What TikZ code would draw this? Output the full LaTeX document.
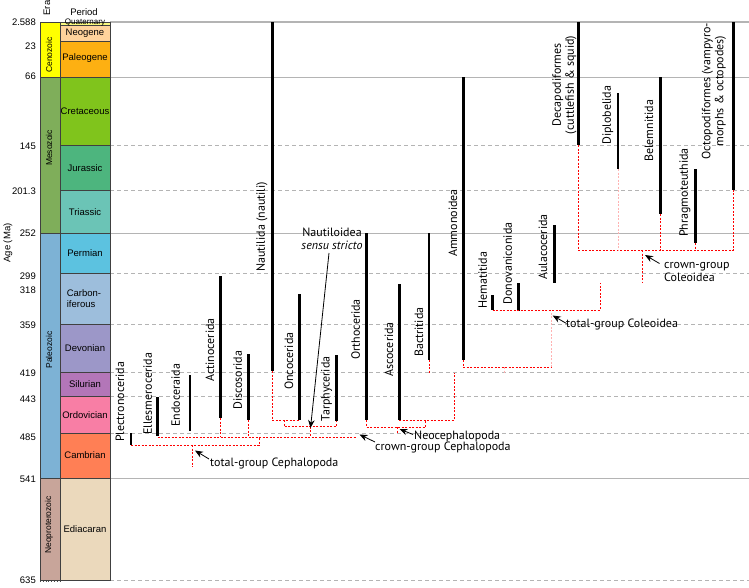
\documentclass[tikz,border=0pt]{standalone}
\usepackage{fontspec}
\setmainfont{Liberation Sans}
\newfontfamily\taxfont{PT Sans}
\usetikzlibrary{arrows.meta}
\definecolor{cQuat}{HTML}{F9F97F}
\definecolor{cNeog}{HTML}{FFD39B}
\definecolor{cPaleog}{HTML}{FDB012}
\definecolor{cCeno}{HTML}{FFFF00}
\definecolor{cMeso}{HTML}{7FAE5A}
\definecolor{cCret}{HTML}{80C41C}
\definecolor{cJura}{HTML}{4DB57E}
\definecolor{cTria}{HTML}{6BC4B6}
\definecolor{cPaleo}{HTML}{7DB2D5}
\definecolor{cPerm}{HTML}{5CC2E0}
\definecolor{cCarb}{HTML}{9DBEDC}
\definecolor{cDevo}{HTML}{9C97C8}
\definecolor{cSilu}{HTML}{B376B8}
\definecolor{cOrdo}{HTML}{F87EA5}
\definecolor{cCamb}{HTML}{FF7F55}
\definecolor{cNeop}{HTML}{C8A59A}
\definecolor{cEdia}{HTML}{EBD9BC}
\definecolor{gridgray}{HTML}{B4B4B4}
\tikzset{
  unitbox/.style={draw=black!75, line width=0.8pt},
  solidgrid/.style={gridgray, line width=1pt},
  dashgrid/.style={gridgray, line width=0.9pt, dash pattern=on 4pt off 3pt},
  link/.style={red, line width=0.9pt, dash pattern=on 2pt off 1.5pt},
  palelink/.style={red!30, line width=0.9pt, dash pattern=on 2pt off 1.5pt},
  taxon/.style={rotate=90, anchor=west, inner sep=0pt, font=\taxfont\fontsize{12}{13}\selectfont},
  taxonc/.style={rotate=90, anchor=center, inner sep=0pt, align=center, font=\taxfont\fontsize{12}{13}\selectfont},
  note/.style={anchor=west, inner sep=0pt, font=\taxfont\fontsize{12}{13}\selectfont},
  pointer/.style={-{Stealth[length=8pt,width=6.5pt]}, line width=0.8pt},
  agelbl/.style={anchor=east, inner sep=0pt, font=\fontsize{9.5}{10}\selectfont},
  perlbl/.style={inner sep=0pt, font=\fontsize{9.5}{11}\selectfont},
  eralbl/.style={rotate=90, inner sep=0pt, font=\fontsize{8.5}{9}\selectfont}
}
\begin{document}
\begin{tikzpicture}[x=1pt,y=-1pt]
\useasboundingbox (0,0) rectangle (749,587);
\fill[white] (0,0) rectangle (749,587);

% ---------- grid lines ----------
\foreach \yy in {145,190,273,324,372,396,433,580}
  \draw[dashgrid] (110,\yy) -- (749,\yy);
\foreach \yy in {77,233,478}
  \draw[solidgrid] (110,\yy) -- (749,\yy);
\draw[gridgray, line width=2pt] (110,22) -- (749,22);

% ---------- era column ----------
\draw[unitbox, fill=cCeno] (40,22) rectangle (60,77);
\draw[unitbox, fill=cMeso] (40,77) rectangle (60,233);
\draw[unitbox, fill=cPaleo] (40,233) rectangle (60,478);
\draw[unitbox, fill=cNeop] (40,478) rectangle (60,580);
\draw[black!70, line width=0.8pt, dotted] (40,581.5) -- (60,581.5);
\node[eralbl] (eCeno) at (49,55) {Cenozoic};
\node[eralbl] (eMeso) at (49,148) {Mesozoic};
\node[eralbl] (ePaleo) at (49,350) {Paleozoic};
\node[eralbl] (eNeop) at (49,525) {Neoproterozoic};

% ---------- period column ----------
\draw[unitbox, fill=cQuat] (60,22) rectangle (110,25);
\draw[unitbox, fill=cNeog] (60,25) rectangle (110,41.7);
\draw[unitbox, fill=cPaleog] (60,41.7) rectangle (110,77);
\draw[unitbox, fill=cCret] (60,77) rectangle (110,145);
\draw[unitbox, fill=cJura] (60,145) rectangle (110,190);
\draw[unitbox, fill=cTria] (60,190) rectangle (110,233);
\draw[unitbox, fill=cPerm] (60,233) rectangle (110,273);
\draw[unitbox, fill=cCarb] (60,273) rectangle (110,324);
\draw[unitbox, fill=cDevo] (60,324) rectangle (110,372);
\draw[unitbox, fill=cSilu] (60,372) rectangle (110,396);
\draw[unitbox, fill=cOrdo] (60,396) rectangle (110,433);
\draw[unitbox, fill=cCamb] (60,433) rectangle (110,478);
\draw[unitbox, fill=cEdia] (60,478) rectangle (110,580);
\node[perlbl, font=\fontsize{8}{8}\selectfont] (pQuat) at (85,23) {Quaternary};
\node[perlbl] (pNeog) at (85,33.5) {Neogene};
\node[perlbl] (pPaleog) at (85,58) {Paleogene};
\node[perlbl] (pCret) at (85,111) {Cretaceous};
\node[perlbl] (pJura) at (85,168) {Jurassic};
\node[perlbl] (pTria) at (85,212) {Triassic};
\node[perlbl] (pPerm) at (85,253) {Permian};
\node[perlbl, align=left] (pCarb) at (84,298.5) {Carbon-\\iferous};
\node[perlbl] (pDevo) at (85,348) {Devonian};
\node[perlbl] (pSilu) at (85,384) {Silurian};
\node[perlbl] (pOrdo) at (85,415) {Ordovician};
\node[perlbl] (pCamb) at (85,455) {Cambrian};
\node[perlbl] (pEdia) at (85,529) {Ediacaran};

% ---------- headers and ages ----------
\node[eralbl, font=\fontsize{9.5}{10}\selectfont] (hEra) at (47,8) {Era};
\node[perlbl] (hPer) at (84,12) {Period};
\node[eralbl, font=\fontsize{9.5}{10}\selectfont] (hAge) at (8,243) {Age (Ma)};
\foreach \lab/\yy in {2.588/22,23/46,66/76,145/146,201.3/191,252/233,299/276,318/290,359/325,419/373,443/399.5,485/437,541/479,635/580}
  \node[agelbl] at (36,\yy) {\lab};

% ---------- taxon ranges ----------
\foreach \n/\x/\t/\b/\w in {plec/131/433/445/2.8, elles/157.7/397/436/3, endo/190/375/431/2, actin/220.7/276/418/3,
  disco/248/354/420/3, naut/272/22/371/3, onco/299/294/420/3, tarph/336/355/421/3, ortho/366.7/233/420/3,
  asco/399/284/420/3, bact/429/233/360/2.2, ammon/463/77/360/3, hemat/492.7/295/310/2.5, donov/518/283/311/3,
  aulac/554/225/283/3, decap/578.3/22/145/3, diplo/618/93/169/2.2, belem/660/77/214/3, phrag/695.7/169/243/3,
  octop/733.3/22/190/3}{
  \coordinate (\n T) at (\x,\t);
  \coordinate (\n B) at (\x,\b);
  \draw[line width=\w pt] (\n T) -- (\n B);
}

% ---------- taxon labels ----------
\node[taxon] (lPlec) at (120,442) {Plectronocerida};
\node[taxon] (lElles) at (147.7,435) {Ellesmerocerida};
\node[taxon] (lEndo) at (175.7,427) {Endoceraida};
\node[taxon] (lActin) at (210,382) {Actinocerida};
\node[taxon] (lDisco) at (237.7,410) {Discosorida};
\node[taxon] (lNaut) at (262,272) {Nautilida (nautili)};
\node[taxon] (lOnco) at (289,390) {Oncocerida};
\node[taxon] (lTarph) at (326.7,421.5) {Tarphycerida};
\node[taxon] (lOrtho) at (355.7,360) {Orthocerida};
\node[taxon] (lAsco) at (389,377) {Ascocerida};
\node[taxon] (lBact) at (419,357) {Bactritida};
\node[taxon] (lAmmon) at (453,257) {Ammonoidea};
\node[taxon] (lHemat) at (482.7,309) {Hematitida};
\node[taxon] (lDonov) at (507.7,305) {Donovaniconida};
\node[taxon] (lAulac) at (543,280) {Aulacocerida};
\node[taxonc] (lDecap) at (564.5,85) {Decapodiformes\\(cuttlefish \& squid)};
\node[taxon] (lDiplo) at (607.7,145) {Diplobelida};
\node[taxon] (lBelem) at (649,162) {Belemnitida};
\node[taxon] (lPhrag) at (685,237) {Phragmoteuthida};
\node[taxonc] (lOctop) at (714,91) {Octopodiformes (vampyro-\\morphs \& octopodes)};

% ---------- connectors ----------
% total-group Cephalopoda
\coordinate (tgJ) at (259,437);
\coordinate (tgS) at (192.7,445);
\coordinate (tgE) at (192.7,466.7);
\draw[link] (plecB) -| (tgJ);
\draw[link] (tgS) -- (tgE);
% crown-group Cephalopoda
\coordinate (crE) at (356.7,437);
\draw[link] (ellesB |- crE) -- (crE);
\draw[link] (actinB) -- (actinB |- crE);
\draw[link] (discoB) -- (discoB |- crE);
% Nautiloidea sensu stricto
\coordinate (nsJ) at (284.3,426.7);
\coordinate (nsS) at (310.7,426.7);
\coordinate (nsE) at (310.7,436);
\draw[link] (nautB) |- (oncoB);
\draw[link] (nsJ |- oncoB) -- (nsJ) -| (tarphB);
\draw[link] (nsS) -- (nsE);
% Neocephalopoda
\coordinate (ncJ) at (425.7,427);
\coordinate (ncS) at (397.3,427);
\coordinate (ncE) at (397.3,433.3);
\coordinate (ammJ) at (454,372.7);
\draw[link] (orthoB) |- (ncJ) -- (ncJ |- ascoB);
\draw[link] (ascoB) -| (ammJ);
\draw[link] (ncS) -- (ncE);
\draw[link] (bactB) -- (bactB |- ammJ);
% Ammonoidea + Coleoidea
\coordinate (acJ) at (551,367);
\coordinate (acM) at (504,367);
\coordinate (colS) at (551,311);
\draw[link] (ammonB) |- (acJ);
\draw[palelink] (acJ) -- (colS);
\draw[palelink] (acM) -- (acM |- ammJ);
% total-group Coleoidea
\coordinate (tcJ) at (600,283);
\draw[link] (hematB) -| (tcJ);
% crown-group Coleoidea
\coordinate (ccL) at (578.3,250);
\coordinate (ccS) at (642.3,283.3);
\draw[link] (decapB) |- (octopB |- ccL) -- (octopB);
\draw[link] (belemB) -- (belemB |- ccL);
\draw[link] (phragB) -- (phragB |- ccL);
\draw[palelink] (diploB) -- (diploB |- ccL);
\draw[link] (ccS |- ccL) -- (ccS);

% ---------- clade labels and pointers ----------
\node[inner sep=0pt, align=center, font=\taxfont\fontsize{12}{13}\selectfont] (lNS) at (332,238.5) {Nautiloidea\\\textit{sensu stricto}};
\coordinate (aNSt) at (329,253);
\coordinate (aNSh) at (310.5,428);
\draw[pointer] (aNSt) -- (aNSh);

\node[note] (lCrC) at (375,447) {crown-group Cephalopoda};
\coordinate (aCrCt) at (375,442);
\coordinate (aCrCh) at (359.5,434.5);
\draw[pointer] (aCrCt) -- (aCrCh);

\node[note] (lNeo) at (414,436) {Neocephalopoda};
\coordinate (aNeot) at (413,434.5);
\coordinate (aNeoh) at (399.5,429);
\draw[pointer] (aNeot) -- (aNeoh);

\node[note] (lTgC) at (210,463.5) {total-group Cephalopoda};
\coordinate (aTgCt) at (209,459);
\coordinate (aTgCh) at (195,450.5);
\draw[pointer] (aTgCt) -- (aTgCh);

\node[note] (lTcol) at (566,324) {total-group Coleoidea};
\coordinate (aTcolt) at (566.5,323.5);
\coordinate (aTcolh) at (552.7,315.5);
\draw[pointer] (aTcolt) -- (aTcolh);

\node[note, align=left] (lCcol) at (664,272) {crown-group\\Coleoidea};
\coordinate (aCcolt) at (659.5,263.5);
\coordinate (aCcolh) at (645,255);
\draw[pointer] (aCcolt) -- (aCcolh);
\end{tikzpicture}
\end{document}
